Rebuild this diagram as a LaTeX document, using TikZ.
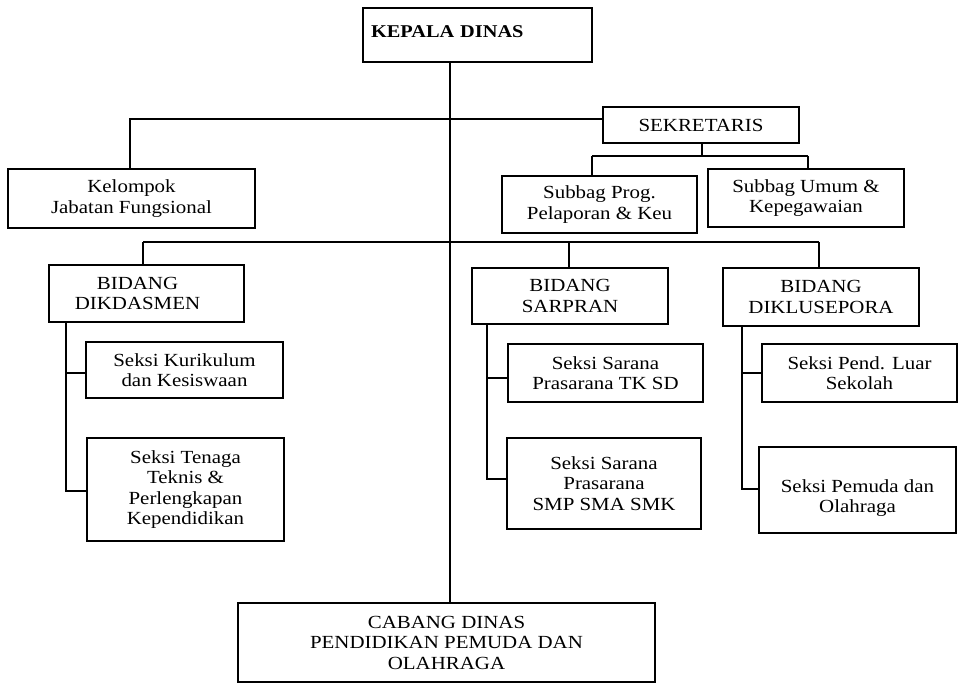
\documentclass[tikz,border=0pt]{standalone}
\usepackage{fontspec}
\setmainfont{Liberation Serif}[FakeStretch=1.13]
\begin{document}
\begin{tikzpicture}[x=1pt,y=-1pt,
  box/.style={draw, line width=1.4pt, align=center, inner sep=0pt,
    font=\fontsize{18.5}{20.5}\selectfont},
  sz/.style 2 args={minimum width=#1pt, minimum height=#2pt},
  conn/.style={line width=1.4pt}]
\useasboundingbox (0,0) rectangle (958,684);
\fill[white] (0,0) rectangle (958,684);
% nodes
\node[box, sz={229}{54}, text width=213pt, align=left, font=\fontsize{18}{21}\selectfont\bfseries] (kepala) at (477.5,35) {KEPALA DINAS\\[-15pt]\mbox{}};
\node[box, sz={196}{36}] (sek) at (701,125) {SEKRETARIS};
\node[box, sz={247}{59}] (kel) at (131.5,198.5) {Kelompok\\Jabatan Fungsional};
\node[box, sz={195}{57}] (sp) at (599.5,204.5) {Subbag Prog.\\Pelaporan \& Keu};
\node[box, sz={196}{58}] (su) at (806,198) {Subbag Umum \&\\Kepegawaian};
\node[box, sz={195}{57}] (dik) at (146.5,293.5) {\hspace*{-18pt}BIDANG\\\hspace*{-18pt}DIKDASMEN};
\node[box, sz={196}{56}] (sar) at (570,296) {BIDANG\\SARPRAN};
\node[box, sz={196}{58}] (dkl) at (821,297) {BIDANG\\DIKLUSEPORA};
\node[box, sz={197}{56}] (k1) at (184.5,370) {Seksi Kurikulum\\dan Kesiswaan};
\node[box, sz={197}{103}] (k2) at (185.5,489.5) {Seksi Tenaga\\Teknis \&\\Perlengkapan\\Kependidikan};
\node[box, sz={195}{58}] (s1) at (605.5,373) {Seksi Sarana\\Prasarana TK SD};
\node[box, sz={194}{91}] (s2) at (604,483.5) {Seksi Sarana\\Prasarana\\SMP SMA SMK};
\node[box, sz={195}{58}] (d1) at (859.5,373) {Seksi Pend. Luar\\Sekolah};
\node[box, sz={197}{86}] (d2) at (857.5,490) {\mbox{}\\[8pt]Seksi Pemuda dan\\Olahraga};
\node[box, sz={417}{79}] (cab) at (446.5,642.5) {CABANG DINAS\\PENDIDIKAN PEMUDA DAN\\OLAHRAGA};
% helper coordinates
\coordinate (sx) at (450,0);
\coordinate (kx) at (130,0);
\coordinate (sekdown) at (702,156);
\coordinate (bidbar) at (0,242);
\coordinate (dikx) at (143,0);
\coordinate (sarx) at (569,0);
\coordinate (dklx) at (819,0);
\coordinate (spx) at (592,0);
\coordinate (sux) at (808,0);
\coordinate (dsp) at (66,0);
\coordinate (ssp) at (487,0);
\coordinate (dksp) at (742,0);
% main spine
\draw[conn] (kepala.south -| sx) -- (cab.north -| sx);
% sekretaris to kelompok
\draw[conn] ([yshift=6pt]sek.west) -| (kel.north -| kx);
% sekretaris to subbag
\draw[conn] (sek.south -| sekdown) -- (sekdown);
\draw[conn] (sekdown -| spx) -- (sekdown -| sux);
\draw[conn] (sekdown -| spx) -- (sp.north -| spx);
\draw[conn] (sekdown -| sux) -- (su.north -| sux);
% bidang bar
\draw[conn] (bidbar -| dikx) -- (bidbar -| dklx);
\draw[conn] (bidbar -| dikx) -- (dik.north -| dikx);
\draw[conn] (bidbar -| sarx) -- (sar.north -| sarx);
\draw[conn] (bidbar -| dklx) -- (dkl.north -| dklx);
% dikdasmen seksi
\draw[conn] (dik.south -| dsp) |- ([yshift=-1.5pt]k2.west);
\draw[conn] ([yshift=-3pt]k1.west -| dsp) -- ([yshift=-3pt]k1.west);
% sarpran seksi
\draw[conn] (sar.south -| ssp) |- ([yshift=4.5pt]s2.west);
\draw[conn] ([yshift=-5pt]s1.west -| ssp) -- ([yshift=-5pt]s1.west);
% diklusepora seksi
\draw[conn] (dkl.south -| dksp) |- ([yshift=1pt]d2.west);
\draw[conn] (d1.west -| dksp) -- (d1.west);
\end{tikzpicture}
\end{document}
